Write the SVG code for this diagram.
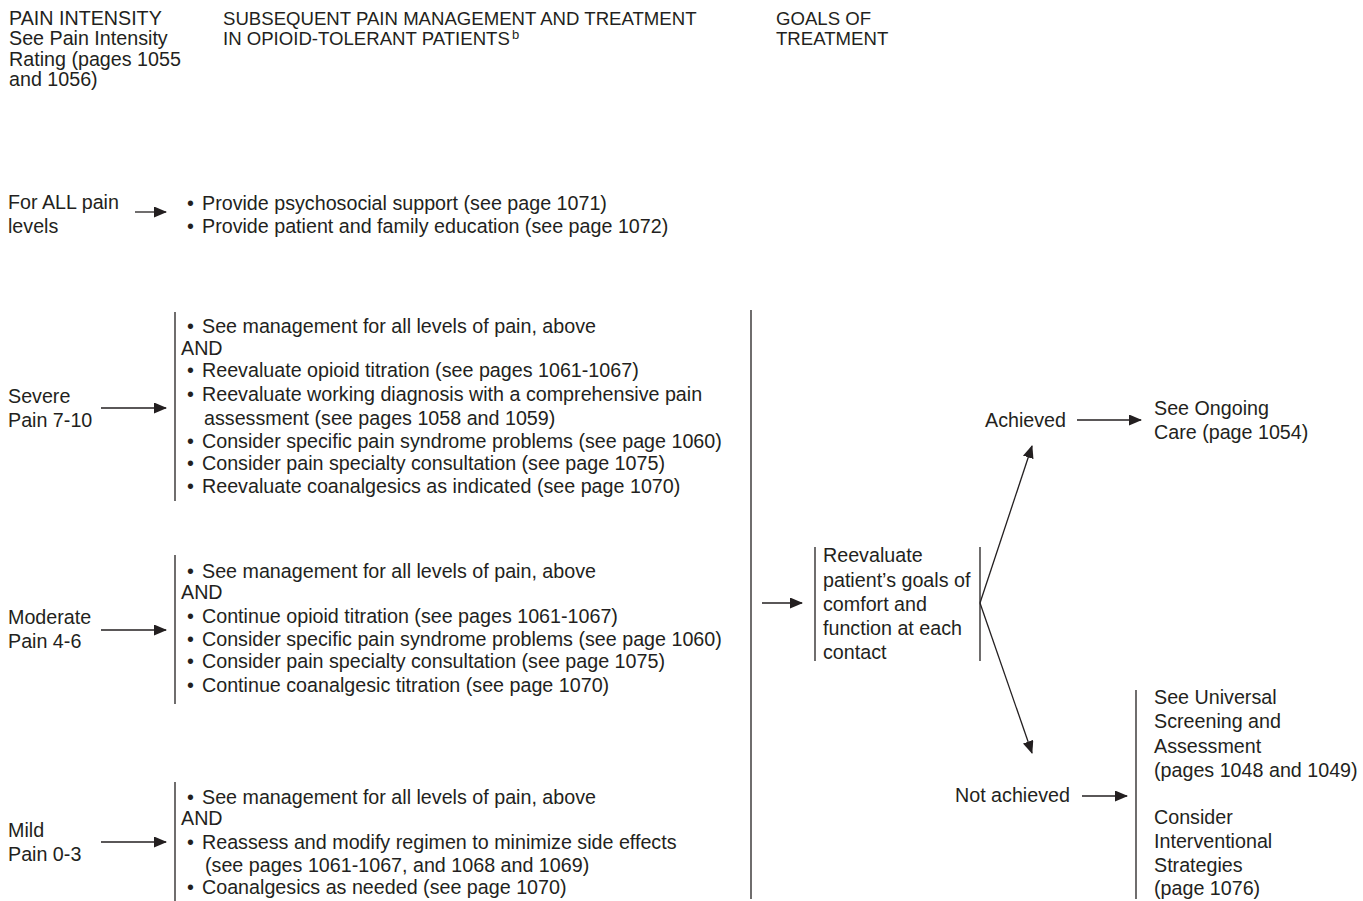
<svg xmlns="http://www.w3.org/2000/svg" width="1363" height="901" viewBox="0 0 1363 901">
<style>
text{font-family:"Liberation Sans",Arial,sans-serif;font-size:19.7px;fill:#231f20}
.hd{font-size:18.6px}
.ln{stroke:#231f20;stroke-width:1.3;fill:none}
.ar{stroke:#231f20;stroke-width:1.3;fill:none;marker-end:url(#ah)}
</style>
<defs>
<marker id="ah" markerWidth="13" markerHeight="11" refX="12" refY="5.5" orient="auto" markerUnits="userSpaceOnUse">
<path d="M0,0 L13,5.5 L0,11 z" fill="#231f20"/>
</marker>
</defs>
<rect width="1363" height="901" fill="#fff"/>
<g id="header-intensity">
<text x="9" y="25">PAIN INTENSITY</text>
<text x="9" y="45">See Pain Intensity</text>
<text x="9" y="66">Rating (pages 1055</text>
<text x="9" y="86">and 1056)</text>
</g>
<g id="header-management">
<text class="hd" x="223" y="25">SUBSEQUENT PAIN MANAGEMENT AND TREATMENT</text>
<text class="hd" x="223" y="45">IN OPIOID-TOLERANT PATIENTS<tspan dx="2" dy="-6" font-size="13">b</tspan></text>
</g>
<g id="header-goals">
<text class="hd" x="776" y="25">GOALS OF</text>
<text class="hd" x="776" y="45">TREATMENT</text>
</g>
<g id="all-levels">
<text x="8" y="209">For ALL pain</text>
<text x="8" y="233">levels</text>
</g>
<g id="all-levels-mgmt">
<text y="210"><tspan x="187">•</tspan><tspan x="202">Provide psychosocial support (see page 1071)</tspan></text>
<text y="233"><tspan x="187">•</tspan><tspan x="202">Provide patient and family education (see page 1072)</tspan></text>
</g>
<g id="severe">
<text x="8" y="403">Severe</text>
<text x="8" y="427">Pain 7-10</text>
</g>
<g id="severe-mgmt">
<line class="ln" x1="175" y1="312" x2="175" y2="501"/>
<text y="333"><tspan x="187">•</tspan><tspan x="202">See management for all levels of pain, above</tspan></text>
<text x="181" y="355">AND</text>
<text y="377"><tspan x="187">•</tspan><tspan x="202">Reevaluate opioid titration (see pages 1061-1067)</tspan></text>
<text y="401"><tspan x="187">•</tspan><tspan x="202">Reevaluate working diagnosis with a comprehensive pain</tspan></text>
<text x="204" y="425">assessment (see pages 1058 and 1059)</text>
<text y="448"><tspan x="187">•</tspan><tspan x="202">Consider specific pain syndrome problems (see page 1060)</tspan></text>
<text y="470"><tspan x="187">•</tspan><tspan x="202">Consider pain specialty consultation (see page 1075)</tspan></text>
<text y="493"><tspan x="187">•</tspan><tspan x="202">Reevaluate coanalgesics as indicated (see page 1070)</tspan></text>
</g>
<g id="moderate">
<text x="8" y="624">Moderate</text>
<text x="8" y="648">Pain 4-6</text>
</g>
<g id="moderate-mgmt">
<line class="ln" x1="175" y1="555" x2="175" y2="704"/>
<text y="578"><tspan x="187">•</tspan><tspan x="202">See management for all levels of pain, above</tspan></text>
<text x="181" y="599">AND</text>
<text y="623"><tspan x="187">•</tspan><tspan x="202">Continue opioid titration (see pages 1061-1067)</tspan></text>
<text y="646"><tspan x="187">•</tspan><tspan x="202">Consider specific pain syndrome problems (see page 1060)</tspan></text>
<text y="668"><tspan x="187">•</tspan><tspan x="202">Consider pain specialty consultation (see page 1075)</tspan></text>
<text y="692"><tspan x="187">•</tspan><tspan x="202">Continue coanalgesic titration (see page 1070)</tspan></text>
</g>
<g id="mild">
<text x="8" y="837">Mild</text>
<text x="8" y="861">Pain 0-3</text>
</g>
<g id="mild-mgmt">
<line class="ln" x1="175" y1="782" x2="175" y2="901"/>
<text y="804"><tspan x="187">•</tspan><tspan x="202">See management for all levels of pain, above</tspan></text>
<text x="181" y="825">AND</text>
<text y="849"><tspan x="187">•</tspan><tspan x="202">Reassess and modify regimen to minimize side effects</tspan></text>
<text x="205" y="872">(see pages 1061-1067, and 1068 and 1069)</text>
<text y="894"><tspan x="187">•</tspan><tspan x="202">Coanalgesics as needed (see page 1070)</tspan></text>
</g>
<g id="reevaluate">
<line class="ln" x1="815" y1="547" x2="815" y2="661"/>
<line class="ln" x1="980" y1="547" x2="980" y2="661"/>
<text x="823" y="562">Reevaluate</text>
<text x="823" y="587">patient’s goals of</text>
<text x="823" y="611">comfort and</text>
<text x="823" y="635">function at each</text>
<text x="823" y="659">contact</text>
</g>
<g id="achieved">
<text x="985" y="427">Achieved</text>
</g>
<g id="ongoing-care">
<text x="1154" y="415">See Ongoing</text>
<text x="1154" y="439">Care (page 1054)</text>
</g>
<g id="not-achieved">
<text x="955" y="802">Not achieved</text>
</g>
<g id="screening">
<line class="ln" x1="1136" y1="690" x2="1136" y2="899"/>
<text x="1154" y="704">See Universal</text>
<text x="1154" y="728">Screening and</text>
<text x="1154" y="753">Assessment</text>
<text x="1154" y="777">(pages 1048 and 1049)</text>
<text x="1154" y="824">Consider</text>
<text x="1154" y="848">Interventional</text>
<text x="1154" y="872">Strategies</text>
<text x="1154" y="895">(page 1076)</text>
</g>
<g id="connectors">
<line class="ar" x1="135" y1="212" x2="166" y2="212"/>
<line class="ar" x1="101" y1="408" x2="166" y2="408"/>
<line class="ar" x1="101" y1="630" x2="166" y2="630"/>
<line class="ar" x1="101" y1="842" x2="166" y2="842"/>
<line class="ln" x1="751" y1="310" x2="751" y2="899"/>
<line class="ar" x1="762" y1="603" x2="802" y2="603"/>
<line class="ar" x1="980" y1="603" x2="1032" y2="446"/>
<line class="ar" x1="980" y1="603" x2="1032" y2="753"/>
<line class="ar" x1="1077" y1="420" x2="1141" y2="420"/>
<line class="ar" x1="1082" y1="796" x2="1127" y2="796"/>
</g>
</svg>
